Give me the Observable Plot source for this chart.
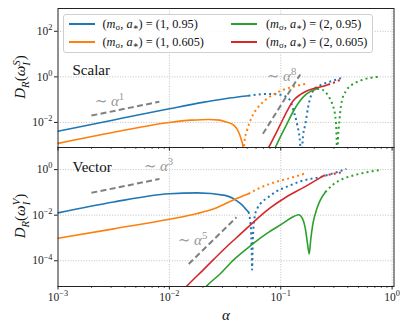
<!DOCTYPE html>
<html><head><meta charset="utf-8">
<script src="https://cdn.jsdelivr.net/npm/d3@7"></script>
<script src="https://cdn.jsdelivr.net/npm/@observablehq/plot@0.6"></script>
<style>
html,body{margin:0;padding:0;background:#fff;}
#wrap{position:relative;width:407px;height:329px;overflow:hidden;font-family:"Liberation Serif","DejaVu Serif",serif;color:#111;}
#wrap svg{position:absolute;left:0;overflow:visible;}
.legend{position:absolute;left:63px;top:14px;width:310px;height:39px;box-sizing:border-box;border:1px solid #cfcfcf;border-radius:3px;background:rgba(255,255,255,0.85);z-index:5;}
.sw{position:absolute;width:26px;height:2px;}
.lab{position:absolute;font-size:12.3px;line-height:14px;white-space:nowrap;}
.lab sub{font-size:0.72em;vertical-align:-0.25em;line-height:0;}
.ylab{position:absolute;transform:translate(-50%,-50%) rotate(-90deg);font-size:15px;white-space:nowrap;line-height:1;z-index:6;}
.ylab sub{font-size:0.72em;vertical-align:-0.3em;line-height:0;}
.stack{display:inline-block;font-size:0.72em;line-height:0.95;vertical-align:-0.42em;text-align:left;}
.xlab{position:absolute;transform:translate(-50%,-50%);font-size:15px;font-style:italic;z-index:6;}
</style></head>
<body><div id="wrap"></div>
<script>
// ---------- data: pairs of [log10(alpha), log10(D_R)] ----------
// Scalar panel
const scalarBlueSolid   = [[-3,-2.39],[-2.5,-1.89],[-2,-1.40],[-1.7,-1.12],[-1.5,-0.96],[-1.29,-0.83]];
const scalarBlueDotted  = [[-1.29,-0.83],[-1.2,-0.77],[-1.1,-0.75],[-1.0,-0.79],[-0.95,-0.88],[-0.92,-1.0],[-0.887,-1.45],[-0.852,-2.1],[-0.83,-2.7],[-0.815,-3.5],[-0.80,-2.6],[-0.78,-2.1],[-0.753,-1.3],[-0.708,-0.6],[-0.65,-0.38],[-0.583,-0.25],[-0.5,-0.12],[-0.44,-0.03]];
const scalarOrangeSolid = [[-3,-2.92],[-2.5,-2.43],[-2,-2.0],[-1.8,-1.9],[-1.65,-1.87],[-1.55,-1.9],[-1.496,-1.97],[-1.42,-2.13],[-1.377,-2.43],[-1.352,-2.79],[-1.341,-3.0],[-1.335,-3.5]];
const scalarOrangeDotted= [[-1.335,-3.5],[-1.325,-2.8],[-1.303,-2.36],[-1.258,-1.75],[-1.199,-1.31],[-1.124,-0.96],[-1.034,-0.69],[-0.915,-0.47],[-0.765,-0.30]];
const scalarGreenSolid  = [[-1.09,-3.5],[-1.049,-3.1],[-1.0,-2.6],[-0.944,-2.06],[-0.888,-1.52],[-0.825,-1.04],[-0.78,-0.80],[-0.735,-0.65],[-0.673,-0.52]];
const scalarGreenDotted = [[-0.673,-0.52],[-0.628,-0.56],[-0.574,-0.83],[-0.538,-1.18],[-0.511,-1.71],[-0.500,-2.4],[-0.493,-3.5],[-0.485,-2.6],[-0.480,-2.28],[-0.451,-1.05],[-0.413,-0.61],[-0.359,-0.34],[-0.287,-0.17],[-0.197,-0.04],[-0.126,0.0]];
const scalarRedSolid    = [[-1.15,-3.5],[-1.109,-3.1],[-1.076,-2.8],[-1.004,-2.1],[-0.942,-1.49],[-0.888,-1.05],[-0.825,-0.78],[-0.762,-0.61],[-0.682,-0.48],[-0.601,-0.39],[-0.574,-0.34]];
const scalarRedDotted   = [[-0.574,-0.34],[-0.511,-0.23],[-0.448,-0.08]];
// Vector panel
const vectorBlueSolid   = [[-3,-1.90],[-2.5,-1.42],[-2,-1.06],[-1.75,-1.02],[-1.5,-1.13],[-1.4,-1.35],[-1.35,-1.54],[-1.32,-1.70],[-1.29,-1.86]];
const vectorBlueDotted  = [[-1.29,-1.86],[-1.275,-2.22],[-1.265,-2.87],[-1.26,-3.74],[-1.257,-4.39],[-1.252,-3.3],[-1.245,-2.57],[-1.235,-2.09],[-1.21,-1.70],[-1.18,-1.48],[-1.12,-1.24],[-1.04,-0.96],[-0.92,-0.70],[-0.80,-0.48],[-0.65,-0.33],[-0.52,-0.15],[-0.41,0.03]];
const vectorOrangeSolid = [[-3,-3.01],[-2.5,-2.6],[-2,-2.18],[-1.75,-1.93],[-1.6,-1.72],[-1.42,-1.32],[-1.29,-1.06]];
const vectorOrangeDotted= [[-1.29,-1.06],[-1.2,-0.83],[-1.1,-0.63],[-1.0,-0.48],[-0.9,-0.35],[-0.77,-0.15]];
const vectorGreenSolid  = [[-1.72,-5.4],[-1.662,-5.09],[-1.543,-4.57],[-1.423,-3.96],[-1.274,-3.35],[-1.124,-2.8],[-0.978,-2.35],[-0.888,-2.07],[-0.840,-1.98],[-0.807,-2.13],[-0.780,-2.57],[-0.758,-3.30],[-0.744,-3.70],[-0.731,-3.09],[-0.713,-2.43],[-0.675,-1.71],[-0.646,-1.35],[-0.600,-0.99]];
const vectorGreenDotted = [[-0.600,-0.99],[-0.529,-0.65],[-0.440,-0.40],[-0.350,-0.26],[-0.242,-0.13],[-0.092,-0.01]];
const vectorRedSolid    = [[-1.9,-5.4],[-1.841,-5.1],[-1.7,-4.42],[-1.5,-3.45],[-1.35,-2.78],[-1.242,-2.29],[-1.092,-1.67],[-0.95,-1.2],[-0.797,-0.79],[-0.616,-0.27]];
const vectorRedDotted   = [[-0.616,-0.27],[-0.53,-0.19],[-0.451,-0.12]];
// dashed power-law guides [log10 alpha, log10 D]
const scalarGuide1 = [[-2.70,-1.70],[-2.09,-1.09]];
const scalarGuide8 = [[-1.160,-2.50],[-0.825,0.105]];
const vectorGuide3 = [[-2.70,-1.02],[-2.089,-0.41]];
const vectorGuide5 = [[-1.826,-4.14],[-1.397,-2.09]];
// annotations [log10 alpha, log10 D, text, kind]
const scalarNotes = [[-2.870,0.28,"Scalar","name"],[-2.538,-1.08,"∼ *α*^{1}","law"],[-0.993,0.02,"∼ *α*^{8}","law"]];
const vectorNotes = [[-2.870,0.09,"Vector","name"],[-2.098,0.13,"∼ *α*^{3}","law"],[-1.792,-3.11,"∼ *α*^{5}","law"]];
// axes
const xMajor = [1e-3,1e-2,1e-1,1];
const minorMult = [2,3,4,5,6,7,8,9];
const scalarYTicks = [1e-2,1,1e2];
const vectorYTicks = [1e-4,1e-2,1];
const scalarYDomain = [10**-3.1, 1e3];
const vectorYDomain = [10**-5.13, 10**0.97];
// legend
const legendItems = [["1","0.95"],["1","0.605"],["2","0.95"],["2","0.605"]];
const colors = ["#1f77b4","#ff7f0e","#2ca02c","#d62728"];

// ---------- helpers ----------
const pts = a => a.map(([lx,ly]) => ({x: 10**lx, y: 10**ly}));
const xMinor = [];
for (const d of xMajor.slice(0,3)) for (const k of minorMult) xMinor.push(k*d);
const fmt = d => `10^{${Math.round(Math.log10(d))}}`.replace("-", "−");

function line(arr, color, dotted){
  return Plot.line(pts(arr), {x:"x", y:"y", stroke:color, strokeWidth: dotted ? 2 : 1.6,
    strokeDasharray: dotted ? "2,3.2" : null, strokeLinecap: dotted ? "butt" : "round", clip:true, curve:"monotone-x"});
}
function guide(arr){
  return Plot.line(pts(arr), {x:"x", y:"y", stroke:"#808080", strokeWidth:2, strokeDasharray:"6,3.3", strokeLinecap:"butt", clip:true});
}
function notes(arr){
  const d = arr.map(([lx,ly,t,k]) => ({x:10**lx, y:10**ly, t, k}));
  return [
    Plot.text(d.filter(e=>e.k==="name"), {x:"x", y:"y", text:"t", textAnchor:"start", fontSize:15, fill:"#111"}),
    Plot.text(d.filter(e=>e.k==="law"), {x:"x", y:"y", text:"t", textAnchor:"middle", fontSize:15, fill:"#999"})
  ];
}

function panel({yDomain, yTicks, height, marginTop, marginBottom, xLabels, marks}){
  return Plot.plot({
    width:407, height, marginLeft:57.5, marginRight:13.5, marginTop, marginBottom,
    x:{type:"log", domain:[1e-3,1.04]},
    y:{type:"log", domain:yDomain},
    style:{fontFamily:"Liberation Serif, DejaVu Serif, serif", fontSize:"11.5px", color:"#222", background:"transparent", overflow:"visible"},
    marks:[
      Plot.ruleX(xMajor.slice(1), {stroke:"#b0b0b0", strokeWidth:0.8, strokeDasharray:"1,1.6"}),
      Plot.ruleY(yTicks, {stroke:"#b0b0b0", strokeWidth:0.8, strokeDasharray:"1,1.6"}),
      ...marks,
      Plot.frame({stroke:"#222", strokeWidth:1}),
      Plot.axisX({ticks:xMinor, tickSize:2, tickFormat:()=>"", label:null, strokeWidth:0.7}),
      Plot.axisX({ticks:xMajor, tickSize:3.5, tickPadding:3, tickFormat: xLabels ? fmt : ()=>"", label:null}),
      Plot.axisY({ticks:yTicks, tickSize:3.5, tickPadding:2, tickFormat:fmt, label:null})
    ]
  });
}

const topSvg = panel({yDomain:scalarYDomain, yTicks:scalarYTicks, height:147, marginTop:8, marginBottom:0, xLabels:false,
  marks:[
    line(scalarBlueSolid, colors[0]), line(scalarBlueDotted, colors[0], true),
    line(scalarOrangeSolid, colors[1]), line(scalarOrangeDotted, colors[1], true),
    line(scalarGreenSolid, colors[2]), line(scalarGreenDotted, colors[2], true),
    line(scalarRedSolid, colors[3]), line(scalarRedDotted, colors[3], true),
    guide(scalarGuide1), guide(scalarGuide8), ...notes(scalarNotes)
  ]});
const botSvg = panel({yDomain:vectorYDomain, yTicks:vectorYTicks, height:182, marginTop:0, marginBottom:43, xLabels:true,
  marks:[
    line(vectorBlueSolid, colors[0]), line(vectorBlueDotted, colors[0], true),
    line(vectorOrangeSolid, colors[1]), line(vectorOrangeDotted, colors[1], true),
    line(vectorGreenSolid, colors[2]), line(vectorGreenDotted, colors[2], true),
    line(vectorRedSolid, colors[3]), line(vectorRedDotted, colors[3], true),
    guide(vectorGuide3), guide(vectorGuide5), ...notes(vectorNotes)
  ]});

const wrap = document.getElementById("wrap");
botSvg.style.top = "147px"; botSvg.style.zIndex = 1;
topSvg.style.top = "0px"; topSvg.style.zIndex = 2;
wrap.appendChild(botSvg); wrap.appendChild(topSvg);

// rich text: ^{sup}, _{sub}, *italic*
function rich(el){
  const s = el.textContent;
  if(!/[\^_*]/.test(s)) return;
  const fs = parseFloat(getComputedStyle(el).fontSize) || 12;
  el.textContent = "";
  const re = /\^\{([^}]*)\}|_\{([^}]*)\}|\*([^*]*)\*|([^\^_*]+)/g;
  let m, cur = 0;
  const NS = "http://www.w3.org/2000/svg";
  while((m = re.exec(s))){
    const t = document.createElementNS(NS,"tspan");
    let target = 0, txt;
    if(m[1]!==undefined){txt=m[1]; target=-0.42*fs; t.setAttribute("font-size",(0.72*fs)+"px");}
    else if(m[2]!==undefined){txt=m[2]; target=0.22*fs; t.setAttribute("font-size",(0.72*fs)+"px");}
    else if(m[3]!==undefined){txt=m[3]; t.setAttribute("font-style","italic");}
    else txt=m[4];
    t.textContent = txt;
    if(target!==cur){t.setAttribute("dy",(target-cur)+"px"); cur=target;}
    el.appendChild(t);
  }
}
for(const svg of [topSvg,botSvg]) svg.querySelectorAll("text").forEach(rich);

// legend (HTML)
const lg = document.createElement("div"); lg.className="legend";
const sx = [5,167], tx = [38.5,202], ry = [9.3,27];
legendItems.forEach(([m,a],i)=>{
  const c = Math.floor(i/2), r = i%2;
  const sw = document.createElement("div"); sw.className="sw";
  sw.style.left = sx[c]+"px"; sw.style.top = Math.round(ry[r]-1)+"px"; sw.style.background = colors[i];
  const lb = document.createElement("div"); lb.className="lab";
  lb.style.left = tx[c]+"px"; lb.style.top = (ry[r]-7.5)+"px";
  lb.innerHTML = `(<i>m</i><sub>σ</sub>, <i>a</i><sub>∗</sub>) = (${m}, ${a})`;
  lg.appendChild(sw); lg.appendChild(lb);
});
wrap.appendChild(lg);

// axis labels (HTML)
function ylab(cy, sup){
  const d = document.createElement("div"); d.className="ylab";
  d.style.left="21px"; d.style.top=cy+"px";
  d.innerHTML = `<i>D</i><sub><i>R</i></sub>(<i>ω</i><span class="stack"><i>${sup}</i><br><i>I</i></span>)`;
  wrap.appendChild(d);
}
ylab(77,"S"); ylab(216,"V");
const xl = document.createElement("div"); xl.className="xlab";
xl.style.left="226px"; xl.style.top="315px"; xl.textContent="α";
wrap.appendChild(xl);
</script>
</body></html>
